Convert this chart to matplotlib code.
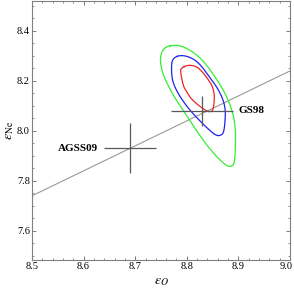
import numpy as np
import matplotlib
matplotlib.use("Agg")
import matplotlib.pyplot as plt
import matplotlib.transforms as mtransforms
from matplotlib.ticker import MultipleLocator

plt.rcParams['font.family'] = ['Liberation Serif', 'DejaVu Serif']
plt.rcParams['mathtext.fontset'] = 'stix'

# solar model abundances (eps_O, eps_Ne) with errors
names = ["AGSS09", "GS98"]
eps_o = [8.69, 8.83]
eps_o_err = [0.05, 0.06]
eps_ne = [7.93, 8.08]
eps_ne_err = [0.10, 0.06]

# reference line eps_Ne vs eps_O
line_x = [8.5, 9.0]
line_y = [7.74, 8.24]

# confidence contours (eps_O, eps_Ne)
red_x = [8.801, 8.788, 8.788, 8.793, 8.800, 8.809, 8.825, 8.841, 8.849, 8.852, 8.854, 8.850, 8.841, 8.832, 8.822, 8.812]
red_y = [8.263, 8.250, 8.233, 8.180, 8.155, 8.127, 8.098, 8.076, 8.078, 8.093, 8.140, 8.178, 8.207, 8.232, 8.253, 8.262]
blue_x = [8.787, 8.775, 8.770, 8.771, 8.779, 8.790, 8.805, 8.822, 8.840, 8.857, 8.866, 8.872, 8.875, 8.874, 8.870, 8.860, 8.847, 8.833, 8.819, 8.803]
blue_y = [8.303, 8.293, 8.273, 8.207, 8.165, 8.127, 8.085, 8.047, 8.010, 7.980, 7.982, 7.993, 8.060, 8.095, 8.127, 8.170, 8.207, 8.248, 8.280, 8.298]
green_x = [8.774, 8.760, 8.752, 8.748, 8.752, 8.764, 8.779, 8.796, 8.815, 8.835, 8.852, 8.866, 8.876, 8.883, 8.890, 8.893, 8.895, 8.893, 8.889, 8.881, 8.870, 8.853, 8.835, 8.819, 8.803, 8.788]
green_y = [8.343, 8.337, 8.320, 8.287, 8.235, 8.180, 8.125, 8.073, 8.012, 7.953, 7.910, 7.880, 7.862, 7.856, 7.862, 7.880, 7.980, 8.030, 8.073, 8.120, 8.167, 8.222, 8.273, 8.305, 8.327, 8.341]


def smooth_closed(xs, ys, n=3):
    # chaikin corner cutting, just so the read-off outline draws round
    p = np.column_stack([xs, ys])
    for _ in range(n):
        q = np.roll(p, -1, axis=0)
        a = 0.75*p + 0.25*q
        b = 0.25*p + 0.75*q
        p = np.empty((2*len(a), 2))
        p[0::2] = a
        p[1::2] = b
    p = np.vstack([p, p[:1]])
    return p[:, 0], p[:, 1]


fig = plt.figure(figsize=(2.94, 2.90), dpi=100)
ax = fig.add_axes([32/294, 30/290, 258/294, 259/290])

ax.plot(line_x, line_y, color='0.6', lw=0.8)
for xs, ys, c in [(green_x, green_y, '#33ee33'), (blue_x, blue_y, '#2222ee'), (red_x, red_y, '#ee2222')]:
    sx, sy = smooth_closed(xs, ys)
    ax.plot(sx, sy, color=c, lw=0.9)

for i in range(len(names)):
    ax.errorbar(eps_o[i], eps_ne[i], xerr=eps_o_err[i], yerr=eps_ne_err[i],
                fmt='none', ecolor='0.35', elinewidth=0.9, capsize=0)

ax.text(eps_o[0] - eps_o_err[0] - 0.012, eps_ne[0], names[0], ha='right', va='center',
        fontsize=8, fontweight='bold')
ax.text(eps_o[1] + eps_o_err[1] + 0.01, eps_ne[1], names[1], ha='left', va='center',
        fontsize=8, fontweight='bold')

ax.set_xlim(8.5, 9.0)
ax.set_ylim(7.483, 8.52)
ax.xaxis.set_minor_locator(MultipleLocator(0.02))
ax.yaxis.set_minor_locator(MultipleLocator(0.05))
ax.set_xticks([8.5, 8.6, 8.7, 8.8, 8.9, 9.0])
ax.set_xticklabels(["8.5", "8.6", "8.7", "8.8", "8.9", "9.0"])
ax.set_yticks([7.6, 7.8, 8.0, 8.2, 8.4])
ax.set_yticklabels(["7.6", "7.8", "8.0", "8.2", "8.4"])
ax.tick_params(which='both', direction='in', top=True, right=True, color='0.4',
               labelsize=7.5, pad=1.5)
ax.tick_params(which='major', length=3, width=0.6)
ax.tick_params(which='minor', length=1.5, width=0.5)
for s in ax.spines.values():
    s.set_color('0.5')
    s.set_linewidth(0.8)

# pull the last x label in a little so it stays on the canvas
last = ax.get_xticklabels()[-1]
last.set_transform(last.get_transform() + mtransforms.ScaledTranslation(-4/100, 0, fig.dpi_scale_trans))

ax.set_xlabel(r'$\varepsilon_{O}$', fontsize=10, labelpad=3)
ax.set_ylabel(r'$\varepsilon_{\mathrm{Ne}}$', fontsize=10, labelpad=1)

fig.savefig('out.png', dpi=100)
